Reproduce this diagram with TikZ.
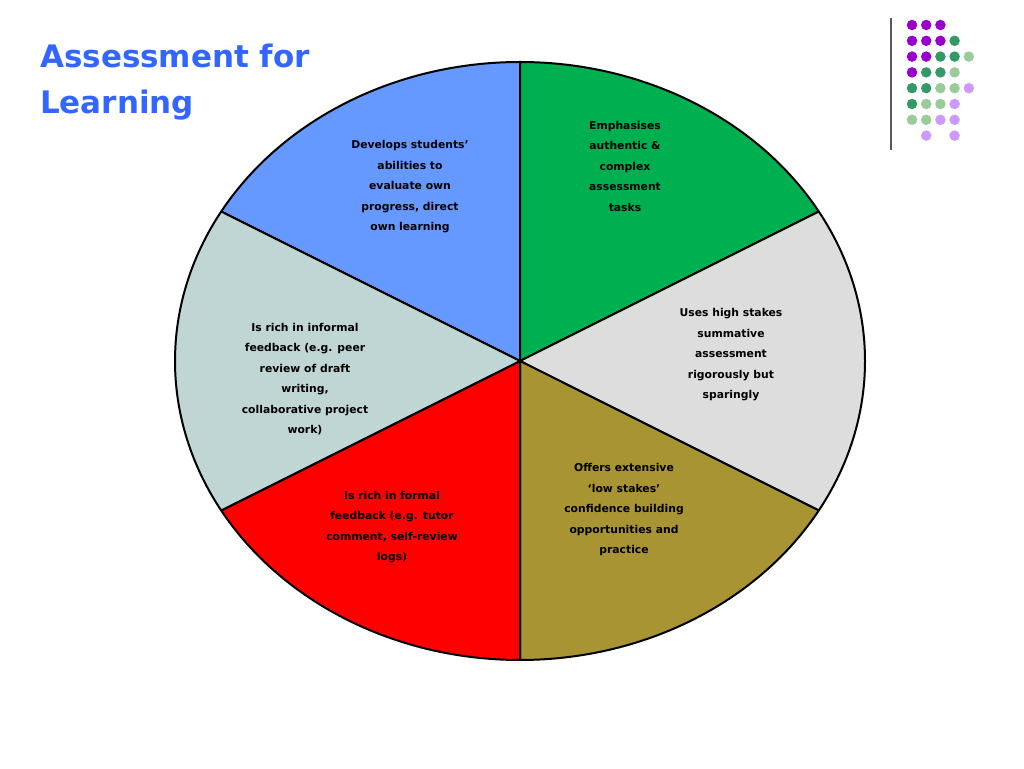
\documentclass[tikz,border=0pt]{standalone}
\usepackage{fontspec}
\setmainfont{DejaVu Sans}
\begin{document}
\begin{tikzpicture}[x=1pt,y=1pt,
  wedge/.style={draw=black,line width=2pt,line join=round},
  lbl/.style={align=center,font=\bfseries\fontsize{10.8}{20.5}\selectfont,text=black,inner sep=0pt},
  dot/.style={circle,inner sep=0pt,minimum size=10.5pt}]
\useasboundingbox (0,0) rectangle (1024,768);
\fill[white] (0,0) rectangle (1024,768);
\def\w#1#2#3{\filldraw[wedge,fill=#1] (520,407) -- +(#2:345pt and 299pt) arc[start angle=#2,end angle=#3,x radius=345pt,y radius=299pt] -- cycle;}
\definecolor{cblue}{HTML}{6699FF}
\definecolor{cgreen}{HTML}{00B050}
\definecolor{cgrey}{HTML}{DDDDDD}
\definecolor{colive}{HTML}{A89432}
\definecolor{cred}{HTML}{FF0000}
\definecolor{cteal}{HTML}{C0D6D4}
\definecolor{ctitle}{HTML}{3366FF}
\w{cblue}{90}{150}
\w{cgreen}{30}{90}
\w{cgrey}{-30}{30}
\w{colive}{-90}{-30}
\w{cred}{-150}{-90}
\w{cteal}{150}{210}
\node[lbl] (b) at (410,581) {Develops students’\\abilities to\\evaluate own\\progress, direct\\own learning};
\node[lbl] (g) at (625,602) {Emphasises\\authentic \&\\complex\\assessment\\tasks};
\node[lbl] (s) at (731,413) {Uses high stakes\\summative\\assessment\\rigorously but\\sparingly};
\node[lbl] (o) at (624,258) {Offers extensive\\‘low stakes’\\confidence building\\opportunities and\\practice};
\node[lbl] (r) at (392,241) {Is rich in formal\\feedback (e.g. tutor\\comment, self-review\\logs)};
\node[lbl] (t) at (305,389) {Is rich in informal\\feedback (e.g. peer\\review of draft\\writing,\\collaborative project\\work)};
\node[anchor=north west,align=left,text=ctitle,font=\bfseries\fontsize{31}{46}\selectfont,inner sep=0pt] (title) at (40,724) {Assessment for\\Learning};
% decoration
\draw[line width=1.2pt,gray!70!black] (891,750) -- (891,618);
\definecolor{P}{HTML}{9900CC}\definecolor{D}{HTML}{339966}
\definecolor{L}{HTML}{99CC99}\definecolor{V}{HTML}{CC99FF}
\def\nn{N}
\foreach \row/\cols in {0/{P,P,P},1/{P,P,P,D},2/{P,P,D,D,L},3/{P,D,D,L},4/{D,D,L,L,V},5/{D,L,L,V},6/{L,L,V,V},7/{N,V,N,V}}{
  \foreach \c [count=\i from 0] in \cols {
    \ifx\c\nn\else
    \node[dot,fill=\c] (d\row\i) at ({912+14.2*\i},{743-15.8*\row}) {};
    \fi
  }
}
\end{tikzpicture}
\end{document}
